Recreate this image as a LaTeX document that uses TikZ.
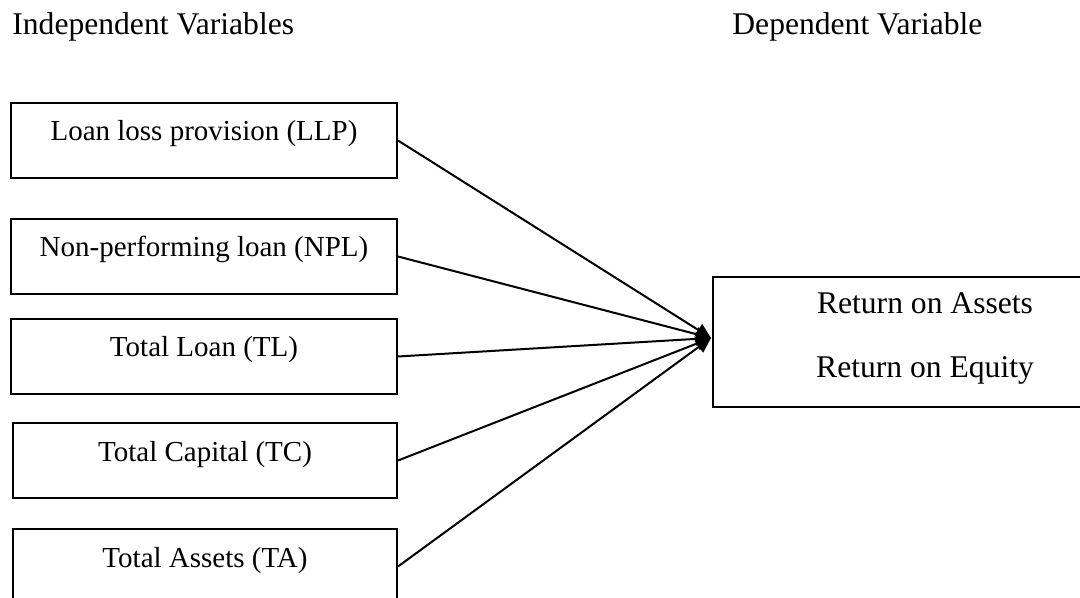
\documentclass[tikz,border=0pt]{standalone}
\usepackage{fontspec}
\setmainfont{Liberation Serif}
\usetikzlibrary{arrows.meta}
\begin{document}
\begin{tikzpicture}[x=0.5pt,y=-0.5pt,
  ivbox/.style={draw, line width=1pt, rectangle, anchor=north west,
    minimum height=37.5pt, inner ysep=0pt, text height=19pt, text depth=18.5pt,
    font=\fontsize{14.5}{17}\selectfont},
  hdr/.style={anchor=base west, inner sep=0pt, font=\fontsize{15.8}{19}\selectfont},
  dvtext/.style={anchor=base, inner sep=0pt, font=\fontsize{15.8}{19}\selectfont},
  link/.style={line width=1pt, -{Triangle[length=7.5pt,width=7pt]}}]
\useasboundingbox (0,0) rectangle (1080,598);
% headers
\node[hdr] (hiv) at (12,35) {Independent Variables};
\node[hdr] (hdv) at (732,35) {Dependent Variable};
% independent variable boxes
\node[ivbox, minimum width=193pt] (llp) at (10,102) {Loan loss provision (LLP)};
\node[ivbox, minimum width=193pt] (npl) at (10,218) {Non-performing loan (NPL)};
\node[ivbox, minimum width=193pt] (tl)  at (10,318) {Total Loan (TL)};
\node[ivbox, minimum width=192pt] (tc)  at (12,422) {Total Capital (TC)};
\node[ivbox, minimum width=192pt] (ta)  at (12,528) {Total Assets (TA)};
% dependent variable box
\node[draw, line width=1pt, anchor=north west, minimum width=213pt, minimum height=65pt] (dv) at (712,276) {};
\node[dvtext] (roa) at (925,314) {Return on Assets};
\node[dvtext] (roe) at (925,377) {Return on Equity};
% connectors
\coordinate (tip) at (711,338);
\draw[link] (llp.east) -- (tip);
\draw[link] (npl.east) -- (tip);
\draw[link] (tl.east) -- (tip);
\draw[link] (tc.east) -- (tip);
\draw[link] (ta.east) -- (tip);
\end{tikzpicture}
\end{document}
